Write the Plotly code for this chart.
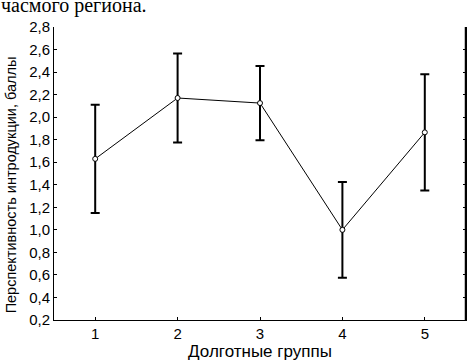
import plotly.graph_objects as go

groups = [1, 2, 3, 4, 5]
means = [1.63, 2.17, 2.125, 1.0, 1.865]
errors = [0.48, 0.395, 0.33, 0.425, 0.515]
y_ticks = [0.2, 0.4, 0.6, 0.8, 1.0, 1.2, 1.4, 1.6, 1.8, 2.0, 2.2, 2.4, 2.6, 2.8]
y_tick_labels = [f"{v:.1f}".replace(".", ",") for v in y_ticks]

fig = go.Figure()
fig.add_trace(go.Scatter(
    x=groups, y=means,
    mode="lines+markers",
    line=dict(color="black", width=1),
    marker=dict(symbol="circle", size=5, color="white", line=dict(color="black", width=1)),
    error_y=dict(type="data", array=errors, visible=True, color="black", thickness=2, width=4.5),
    showlegend=False,
))

axis_font = dict(family="Liberation Sans, Arial, sans-serif", size=15, color="black")

fig.update_layout(
    width=467, height=364,
    margin=dict(l=54, r=1, t=27, b=44),
    paper_bgcolor="white", plot_bgcolor="white",
    xaxis=dict(
        range=[0.5, 5.5], tickvals=groups, ticktext=[str(g) for g in groups],
        showline=True, linecolor="black", linewidth=1, mirror=False,
        ticks="inside", ticklen=3, tickcolor="black",
        showgrid=False, zeroline=False, tickfont=axis_font,
        title=dict(text="Долготные группы", font=dict(family="Liberation Sans, Arial, sans-serif", size=17, color="black"), standoff=4),
    ),
    yaxis=dict(
        range=[0.2, 2.8], tickvals=y_ticks, ticktext=y_tick_labels,
        showline=True, linecolor="black", linewidth=1, mirror="ticks",
        ticks="inside", ticklen=3, tickcolor="black",
        showgrid=False, zeroline=False, tickfont=axis_font,
    ),
    shapes=[dict(type="line", xref="paper", yref="paper", x0=1, x1=1, y0=0, y1=1,
                 line=dict(color="black", width=2.5))],
    annotations=[
        dict(text="Перспективность интродукции, баллы", textangle=-90,
             xref="paper", yref="paper", x=-0.104, y=0.46, xanchor="center", yanchor="middle",
             showarrow=False, font=dict(family="Liberation Sans, Arial, sans-serif", size=14.5, color="black")),
        dict(text="часмого региона.", xref="paper", yref="paper", x=-0.131, y=1.0,
             xanchor="left", yanchor="bottom", yshift=9, borderpad=0, showarrow=False,
             font=dict(family="Liberation Serif, Times New Roman, serif", size=20, color="black")),
    ],
)

fig.write_html("out.html", config={"displayModeBar": False},
               post_script="document.body.style.margin='0';")
